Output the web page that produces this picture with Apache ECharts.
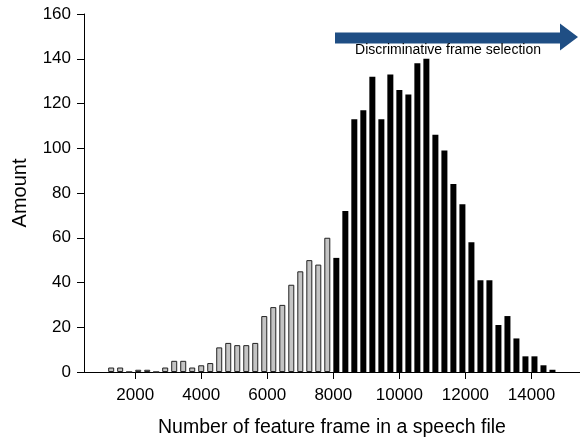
<!DOCTYPE html>
<html>
<head>
<meta charset="utf-8">
<script src="https://cdn.jsdelivr.net/npm/echarts@6/dist/echarts.min.js"></script>
<style>
html, body { margin: 0; padding: 0; background: #fff; }
#main { width: 580px; height: 441px; }
</style>
</head>
<body>
<div id="main"></div>
<script>
// bin centres (number of frames), one per bar
const binCenters = [
	1273, 1545, 1818, 2091, 2364, 2636, 2909, 3182, 3455, 3727,
	4000, 4273, 4545, 4818, 5091, 5364, 5636, 5909, 6182, 6455,
	6727, 7000, 7273, 7545, 7818, 8091, 8364, 8636, 8909, 9182,
	9455, 9727, 10000, 10273, 10545, 10818, 11091, 11364, 11636, 11909,
	12182, 12455, 12727, 13000, 13273, 13545, 13818, 14091, 14364, 14636
];
// counts below 8000 frames (grey)
const grayCounts = [
	2, 2, 0, 1, 1, 0, 2, 5, 5, 2,
	3, 4, 11, 13, 12, 12, 13, 25, 29, 30,
	39, 45, 50, 48, 60
];
// counts of the selected bins (black)
const blackCounts = [
	51, 72, 113, 117, 132, 113, 133, 126, 124, 138,
	140, 106, 99, 84, 75, 58, 41, 41, 21, 25,
	15, 7, 7, 3, 1
];
const xTicks = [2000, 4000, 6000, 8000, 10000, 12000, 14000];

const FONT = "'Liberation Sans', Arial, sans-serif";

var grayData = [];
for (var i = 0; i < grayCounts.length; i++) {
	grayData.push([binCenters[i], grayCounts[i]]);
}
var blackData = [];
for (var j = 0; j < blackCounts.length; j++) {
	blackData.push([binCenters[grayCounts.length + j], blackCounts[j]]);
}

var myChart = echarts.init(document.querySelector("#main"));

var option = {
	animation: false,
	backgroundColor: "#fff",
	grid: { left: 84, right: 0, top: 14, bottom: 69, outerBoundsMode: "none" },
	xAxis: {
		type: "value",
		min: 450,
		max: 15470,
		name: "Number of feature frame in a speech file",
		nameLocation: "middle",
		nameGap: 46,
		nameTextStyle: { fontFamily: FONT, fontSize: 19.5, color: "#000" },
		axisLine: { show: true, onZero: false, lineStyle: { color: "#000", width: 1 } },
		axisTick: { show: true, length: 7, customValues: xTicks, lineStyle: { color: "#000" } },
		axisLabel: {
			customValues: xTicks,
			formatter: function (v) { return String(v); },
			fontFamily: FONT, fontSize: 17, color: "#000", margin: 15
		},
		splitLine: { show: false }
	},
	yAxis: {
		type: "value",
		min: 0,
		max: 160,
		interval: 20,
		name: "Amount",
		nameLocation: "middle",
		nameRotate: 90,
		nameGap: 54,
		nameTextStyle: { fontFamily: FONT, fontSize: 20, color: "#000" },
		axisLine: { show: true, lineStyle: { color: "#000", width: 1 } },
		axisTick: { show: true, length: 7, lineStyle: { color: "#000" } },
		axisLabel: { fontFamily: FONT, fontSize: 17, color: "#000", margin: 13 },
		splitLine: { show: false }
	},
	series: [
		{
			name: "below 8000",
			type: "bar",
			data: grayData,
			barWidth: 6,
			barGap: "-100%",
			itemStyle: { color: "#c4c4c4", borderColor: "#222", borderWidth: 1 }
		},
		{
			name: "selected",
			type: "bar",
			data: blackData,
			barWidth: 6,
			barGap: "-100%",
			itemStyle: { color: "#000" }
		}
	],
	graphic: [
		{
			type: "polygon",
			shape: {
				points: [[335, 32.5], [560, 32.5], [560, 23.5], [578, 37], [560, 50.5], [560, 43.5], [335, 43.5]]
			},
			style: { fill: "#1f4e84" }
		},
		{
			type: "text",
			x: 448,
			y: 50.5,
			style: {
				text: "Discriminative frame selection",
				fontFamily: FONT,
				fontSize: 14,
				fill: "#000",
				align: "center",
				verticalAlign: "middle"
			}
		}
	]
};

myChart.setOption(option);
</script>
</body>
</html>
